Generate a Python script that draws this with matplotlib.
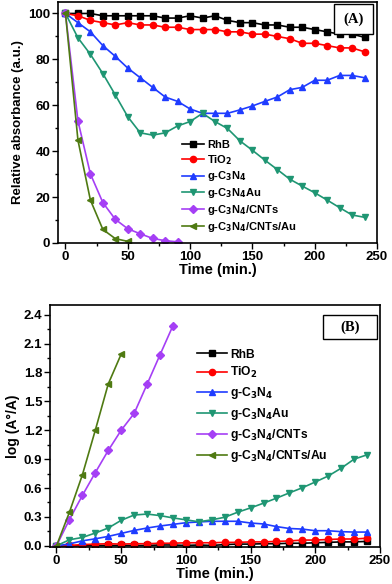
import numpy as np
import matplotlib
matplotlib.use("Agg")
import matplotlib.pyplot as plt
from matplotlib.patches import Rectangle

plt.rcParams['font.family'] = ['Liberation Sans', 'DejaVu Sans']
plt.rcParams['font.weight'] = 'bold'
plt.rcParams['mathtext.default'] = 'bf'

# time axis (min.)
time = np.arange(0, 250, 10)
time_cnt = np.arange(0, 100, 10)
time_cnt_au = np.arange(0, 60, 10)

labels = ['RhB', 'TiO$_2$', 'g-C$_3$N$_4$', 'g-C$_3$N$_4$Au',
          'g-C$_3$N$_4$/CNTs', 'g-C$_3$N$_4$/CNTs/Au']
colors = ['black', '#ff0000', '#1f3cff', '#1f9673', '#a53ff5', '#4f7a12']
markers = ['s', 'o', '^', 'v', 'D', '<']

# panel A: relative absorbance
rhb_a = [100, 100, 100, 99, 99, 99, 99, 99, 98, 98, 99, 98, 99, 97, 96, 96,
         95, 95, 94, 94, 93, 92, 91, 91, 89.6]
tio2_a = [100, 99, 97, 96, 95, 96, 95, 95, 94, 94, 93, 93, 93, 92, 92, 91,
          91, 90, 89, 87, 87, 86, 85, 85, 83.3]
cn_a = [100, 96, 92, 86, 81.3, 76.2, 72, 67.8, 63.6, 61.7, 58.4, 56.5, 56.5,
        56.5, 58, 59.7, 61.7, 63.6, 66.8, 67.8, 70.9, 70.9, 73, 73, 72]
cnau_a = [100, 89.4, 82.2, 73.8, 64.5, 55, 48, 47, 48, 51, 52.9, 56.5, 52.9,
          49.9, 44.5, 40.4, 36.1, 32, 27.8, 24.8, 21.9, 18.7, 15.4, 12.2, 11.2]
cnt_a = [100, 53.2, 30.1, 17.6, 10.3, 6.2, 4, 2, 1, 0.5]
cntau_a = [100, 44.8, 18.7, 5.9, 1.9, 0.7]

# panel B: log(A0/A)
rhb_b = [0, 0, 0, 0.004, 0.004, 0.004, 0.004, 0.004, 0.009, 0.009, 0.004,
         0.009, 0.004, 0.013, 0.018, 0.018, 0.022, 0.022, 0.027, 0.027, 0.032,
         0.036, 0.041, 0.041, 0.046]
tio2_b = [0, 0.004, 0.013, 0.018, 0.022, 0.018, 0.022, 0.022, 0.027, 0.027,
          0.032, 0.032, 0.032, 0.036, 0.036, 0.041, 0.041, 0.046, 0.051, 0.06,
          0.06, 0.066, 0.071, 0.071, 0.079]
cn_b = [0, 0.02, 0.052, 0.073, 0.098, 0.129, 0.16, 0.185, 0.206, 0.223, 0.24,
        0.248, 0.255, 0.255, 0.255, 0.237, 0.227, 0.2, 0.18, 0.174, 0.157,
        0.157, 0.147, 0.143, 0.143]
cnau_b = [0, 0.063, 0.087, 0.133, 0.185, 0.265, 0.32, 0.33, 0.314, 0.29, 0.27,
          0.25, 0.27, 0.297, 0.349, 0.394, 0.443, 0.495, 0.55, 0.603, 0.663,
          0.725, 0.806, 0.9, 0.945]
cnt_b = [0, 0.272, 0.523, 0.76, 0.99, 1.2, 1.374, 1.677, 1.983, 2.285]
cntau_b = [0, 0.349, 0.736, 1.2, 1.68, 1.99]

times = [time, time, time, time, time_cnt, time_cnt_au]
data_a = [rhb_a, tio2_a, cn_a, cnau_a, cnt_a, cntau_a]
data_b = [rhb_b, tio2_b, cn_b, cnau_b, cnt_b, cntau_b]

fig = plt.figure(figsize=(3.92, 5.84), dpi=100)
ax1 = fig.add_axes([58/392, 1-243/584, 319/392, 241/584])
ax2 = fig.add_axes([50/392, 1-547/584, 330/392, 242/584])

for ax, data in [(ax1, data_a), (ax2, data_b)]:
    for t, y, lab, c, m in zip(times, data, labels, colors, markers):
        ax.plot(t, y, color=c, marker=m, markersize=4.5, linewidth=1.2,
                label=lab)
    ax.set_xlim(-5, 250)
    ax.set_xticks(np.arange(0, 251, 50))
    ax.set_xticks(np.arange(25, 250, 50), minor=True)
    ax.set_xlabel('Time (min.)', fontsize=10.5, fontweight='bold', labelpad=0)
    ax.tick_params(labelsize=9.5, direction='out', length=4, width=1, pad=1.5)
    ax.tick_params(which='minor', direction='out', length=2.5, width=1)
    for s in ax.spines.values():
        s.set_linewidth(1.2)

ax1.set_xlim(-6, 250)
ax1.set_ylim(0, 105)
ax1.set_yticks(np.arange(0, 101, 20))
ax1.set_yticks(np.arange(10, 101, 20), minor=True)
ax1.set_ylabel('Relative absorbance (a.u.)', fontsize=9.5, fontweight='bold',
               labelpad=3)
ax1.legend(loc='upper left', bbox_to_anchor=(0.37, 0.45), frameon=False,
           fontsize=8, handlelength=2.0, handletextpad=0.3,
           labelspacing=0.25, borderpad=0)
ax1.add_patch(Rectangle((0.865, 0.867), 0.122, 0.125, transform=ax1.transAxes,
                        fc='white', ec='black', lw=1, zorder=5))
ax1.text(0.926, 0.93, '(A)', transform=ax1.transAxes, ha='center',
         va='center', fontsize=10.5, fontweight='bold',
         family='Liberation Serif', zorder=6)

ax2.set_ylim(-0.012, 2.5)
ax2.set_yticks(np.arange(0, 2.41, 0.3))
ax2.set_yticks(np.arange(0.15, 2.5, 0.3), minor=True)
ax2.set_yticklabels([f'{v:.1f}' for v in np.arange(0, 2.41, 0.3)])
ax2.set_ylabel('log (A°/A)', fontsize=10, fontweight='bold', labelpad=3)
ax2.legend(loc='upper left', bbox_to_anchor=(0.426, 0.845), frameon=False,
           fontsize=8.7, handlelength=2.5, handletextpad=0.3,
           labelspacing=0.4, borderpad=0)
ax2.add_patch(Rectangle((0.827, 0.86), 0.164, 0.099, transform=ax2.transAxes,
                        fc='white', ec='black', lw=1, zorder=5))
ax2.text(0.909, 0.909, '(B)', transform=ax2.transAxes, ha='center',
         va='center', fontsize=10.5, fontweight='bold',
         family='Liberation Serif', zorder=6)

fig.savefig('out.png', dpi=100)
